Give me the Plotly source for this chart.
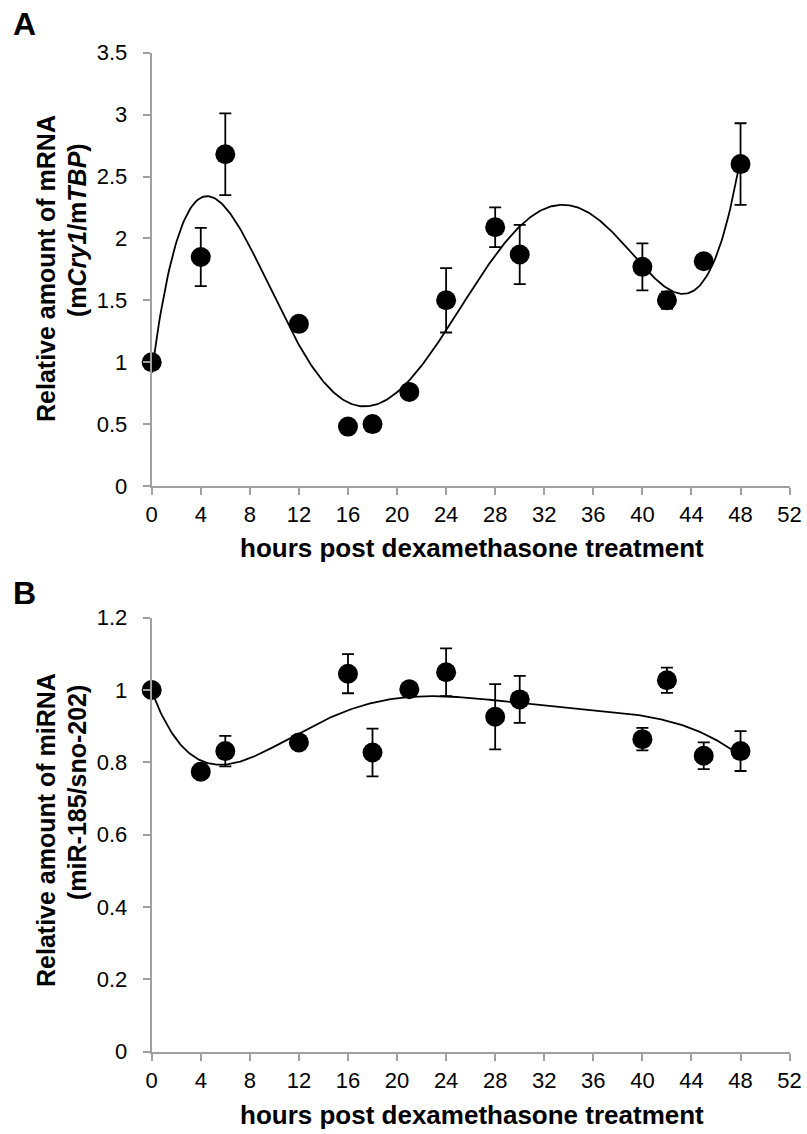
import numpy as np
import plotly.graph_objects as go

# ---- data ----
hours_a = [0, 4, 6, 12, 16, 18, 21, 24, 28, 30, 40, 42, 45, 48]
mrna = [1.00, 1.85, 2.68, 1.31, 0.48, 0.50, 0.76, 1.50, 2.09, 1.87, 1.77, 1.50, 1.815, 2.60]
mrna_err = [0.0, 0.235, 0.33, 0.0, 0.0, 0.0, 0.0, 0.26, 0.16, 0.24, 0.19, 0.07, 0.0, 0.33]

hours_b = [0, 4, 6, 12, 16, 18, 21, 24, 28, 30, 40, 42, 45, 48]
mirna = [1.00, 0.774, 0.831, 0.855, 1.045, 0.827, 1.002, 1.049, 0.926, 0.974, 0.864, 1.027, 0.818, 0.831]
mirna_err = [0.0, 0.0, 0.042, 0.0, 0.054, 0.066, 0.0, 0.066, 0.09, 0.065, 0.031, 0.035, 0.037, 0.055]

x_ticks = list(range(0, 53, 4))
poly_order = 6

FONT = "Liberation Sans, Arial, sans-serif"
GRAY = "#a0a0a0"

def trend(xs, ys):
    coef = np.polyfit(xs, ys, poly_order)
    xx = np.linspace(min(xs), max(xs), 400)
    return xx, np.polyval(coef, xx)

fig = go.Figure()

for xs, ys, es, xa, ya in [(hours_a, mrna, mrna_err, "x", "y"),
                           (hours_b, mirna, mirna_err, "x2", "y2")]:
    tx, ty = trend(xs, ys)
    fig.add_trace(go.Scatter(x=tx, y=ty, mode="lines", line=dict(color="black", width=1.8),
                             xaxis=xa, yaxis=ya, showlegend=False, hoverinfo="skip",
                             cliponaxis=False))
    fig.add_trace(go.Scatter(x=xs, y=ys, mode="markers",
                             marker=dict(color="black", size=20),
                             error_y=dict(type="data", array=es, visible=True,
                                          color="black", thickness=1.8, width=6),
                             xaxis=xa, yaxis=ya, showlegend=False, cliponaxis=False))

W, H = 807, 1134
x0, x1 = 151.7, 789.6
xdom = [x0 / W, x1 / W]
ydomA = [1 - 486 / H, 1 - 52.7 / H]
ydomB = [1 - 1051.5 / H, 1 - 617.7 / H]

common_x = dict(range=[0, 52], tickmode="array", tickvals=x_ticks, ticks="outside",
                ticklen=7, tickwidth=2, tickcolor=GRAY, showline=True, linecolor=GRAY,
                linewidth=2, showgrid=False, zeroline=False, domain=xdom,
                tickfont=dict(family=FONT, size=22, color="black"),
                ticklabelstandoff=1, automargin=False, fixedrange=True)
common_y = dict(ticks="outside", ticklen=7, tickwidth=2, tickcolor=GRAY, showline=True,
                linecolor=GRAY, linewidth=2, showgrid=False, zeroline=False,
                tickfont=dict(family=FONT, size=22, color="black"),
                ticklabelstandoff=11, automargin=False, fixedrange=True)

fig.update_layout(
    width=W, height=H, margin=dict(l=0, r=0, t=0, b=0),
    template="none", paper_bgcolor="white", plot_bgcolor="white",
    xaxis=dict(common_x, anchor="y"),
    xaxis2=dict(common_x, anchor="y2"),
    yaxis=dict(common_y, range=[0, 3.5], dtick=0.5, tick0=0, domain=ydomA, anchor="x"),
    yaxis2=dict(common_y, range=[0, 1.2], dtick=0.2, tick0=0, domain=ydomB, anchor="x2",
                tickformat=".1~f"),
)

def px(xp, yp):
    return xp / W, 1 - yp / H

anns = []
def add_text(text, xp, yp, size, angle=0):
    ax, ay = px(xp, yp)
    anns.append(dict(text=text, x=ax, y=ay, xref="paper", yref="paper", showarrow=False,
                     textangle=angle, xanchor="center", yanchor="middle",
                     font=dict(family=FONT, size=size, color="black")))

add_text("<b>A</b>", 24, 24, 32)
add_text("<b>B</b>", 24, 593, 32)
add_text("<b>Relative amount of mRNA</b>", 46, 269, 25, -90)
add_text("<b>(m<i>Cry1</i>/m<i>TBP</i>)</b>", 77, 230, 25, -90)
add_text("<b>Relative amount of miRNA</b>", 46, 830, 25, -90)
add_text("<b>(miR-185/sno-202)</b>", 77, 793, 25, -90)
add_text("<b>hours post dexamethasone treatment</b>", 472, 548, 26)
add_text("<b>hours post dexamethasone treatment</b>", 472, 1115, 26)
fig.update_layout(annotations=anns)

fig.write_html("out.html")
